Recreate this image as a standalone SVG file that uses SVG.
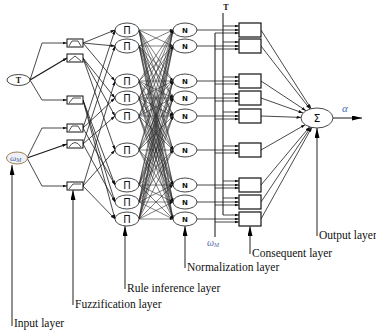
<svg xmlns="http://www.w3.org/2000/svg" width="376" height="333" viewBox="0 0 376 333">
<defs>
<marker id="a" viewBox="0 0 6 4" refX="6" refY="2" markerWidth="4.5" markerHeight="3" markerUnits="userSpaceOnUse" orient="auto"><path d="M0,0 L6,2 L0,4 z" fill="#111"/></marker>
<marker id="s" viewBox="0 0 6 4" refX="6" refY="2" markerWidth="3.5" markerHeight="2.5" markerUnits="userSpaceOnUse" orient="auto"><path d="M0,0 L6,2 L0,4 z" fill="#111"/></marker>
<marker id="b" viewBox="0 0 10 5" refX="10" refY="2.5" markerWidth="10" markerHeight="5" markerUnits="userSpaceOnUse" orient="auto"><path d="M0,0 L10,2.5 L0,5 z" fill="#000"/></marker>
</defs>
<style>
.c{stroke:#1a1a1a;stroke-width:.8;fill:none;marker-end:url(#a)}
.d line{stroke:#2a2a2a;stroke-width:.6;fill:none;marker-end:url(#s)}
.bus{stroke:#111;stroke-width:1;fill:none}
.nd{fill:#fff;stroke:#333;stroke-width:.9}
.bx{fill:#fff;stroke:#111;stroke-width:1.2}
.fz{fill:#fff;stroke:#111;stroke-width:1}
.mf{fill:none;stroke:#222;stroke-width:.8}
.pi{font-family:"DejaVu Sans",sans-serif;font-size:10px;fill:#111;text-anchor:middle}
.n{font-family:"DejaVu Sans",sans-serif;font-size:7px;font-weight:bold;fill:#111;text-anchor:middle}
.lb{font-family:"Liberation Serif",serif;font-size:11.5px;fill:#111}
.lk{stroke:#555;stroke-width:1.3;fill:none;marker-end:url(#b)}
</style>
<rect width="376" height="333" fill="#fff"/>
<g id="connectors">
<polyline class="c" points="30,80 42,43 67,43"/>
<polyline class="c" points="30,80 67,58" style="stroke-width:1.3"/>
<polyline class="c" points="30,80 42,100 67,100"/>
<polyline class="c" points="27,158 42,128 67,128"/>
<polyline class="c" points="27,158 67,144" style="stroke-width:1.3"/>
<polyline class="c" points="27,158 42,186 67,186"/>
<line class="c" x1="83" y1="43" x2="115" y2="30"/>
<line class="c" x1="83" y1="43" x2="115" y2="46"/>
<line class="c" x1="83" y1="43" x2="115" y2="81"/>
<line class="c" x1="83" y1="58" x2="115" y2="98"/>
<line class="c" x1="83" y1="58" x2="115" y2="116"/>
<line class="c" x1="83" y1="58" x2="115" y2="150"/>
<line class="c" x1="83" y1="100" x2="115" y2="185"/>
<line class="c" x1="83" y1="100" x2="115" y2="202"/>
<line class="c" x1="83" y1="100" x2="115" y2="219"/>
<line class="c" x1="83" y1="128" x2="115" y2="30"/>
<line class="c" x1="83" y1="128" x2="115" y2="98"/>
<line class="c" x1="83" y1="128" x2="115" y2="185"/>
<line class="c" x1="83" y1="144" x2="115" y2="46"/>
<line class="c" x1="83" y1="144" x2="115" y2="116"/>
<line class="c" x1="83" y1="144" x2="115" y2="202"/>
<line class="c" x1="83" y1="186" x2="115" y2="81"/>
<line class="c" x1="83" y1="186" x2="115" y2="150"/>
<line class="c" x1="83" y1="186" x2="115" y2="219"/>
<g class="d">
<line x1="139" y1="30" x2="173" y2="30"/><line x1="139" y1="30" x2="173" y2="46"/><line x1="139" y1="30" x2="173" y2="81"/><line x1="139" y1="30" x2="173" y2="98"/><line x1="139" y1="30" x2="173" y2="116"/><line x1="139" y1="30" x2="173" y2="150"/><line x1="139" y1="30" x2="173" y2="185"/><line x1="139" y1="30" x2="173" y2="202"/><line x1="139" y1="30" x2="173" y2="219"/>
<line x1="139" y1="46" x2="173" y2="30"/><line x1="139" y1="46" x2="173" y2="46"/><line x1="139" y1="46" x2="173" y2="81"/><line x1="139" y1="46" x2="173" y2="98"/><line x1="139" y1="46" x2="173" y2="116"/><line x1="139" y1="46" x2="173" y2="150"/><line x1="139" y1="46" x2="173" y2="185"/><line x1="139" y1="46" x2="173" y2="202"/><line x1="139" y1="46" x2="173" y2="219"/>
<line x1="139" y1="81" x2="173" y2="30"/><line x1="139" y1="81" x2="173" y2="46"/><line x1="139" y1="81" x2="173" y2="81"/><line x1="139" y1="81" x2="173" y2="98"/><line x1="139" y1="81" x2="173" y2="116"/><line x1="139" y1="81" x2="173" y2="150"/><line x1="139" y1="81" x2="173" y2="185"/><line x1="139" y1="81" x2="173" y2="202"/><line x1="139" y1="81" x2="173" y2="219"/>
<line x1="139" y1="98" x2="173" y2="30"/><line x1="139" y1="98" x2="173" y2="46"/><line x1="139" y1="98" x2="173" y2="81"/><line x1="139" y1="98" x2="173" y2="98"/><line x1="139" y1="98" x2="173" y2="116"/><line x1="139" y1="98" x2="173" y2="150"/><line x1="139" y1="98" x2="173" y2="185"/><line x1="139" y1="98" x2="173" y2="202"/><line x1="139" y1="98" x2="173" y2="219"/>
<line x1="139" y1="116" x2="173" y2="30"/><line x1="139" y1="116" x2="173" y2="46"/><line x1="139" y1="116" x2="173" y2="81"/><line x1="139" y1="116" x2="173" y2="98"/><line x1="139" y1="116" x2="173" y2="116"/><line x1="139" y1="116" x2="173" y2="150"/><line x1="139" y1="116" x2="173" y2="185"/><line x1="139" y1="116" x2="173" y2="202"/><line x1="139" y1="116" x2="173" y2="219"/>
<line x1="139" y1="150" x2="173" y2="30"/><line x1="139" y1="150" x2="173" y2="46"/><line x1="139" y1="150" x2="173" y2="81"/><line x1="139" y1="150" x2="173" y2="98"/><line x1="139" y1="150" x2="173" y2="116"/><line x1="139" y1="150" x2="173" y2="150"/><line x1="139" y1="150" x2="173" y2="185"/><line x1="139" y1="150" x2="173" y2="202"/><line x1="139" y1="150" x2="173" y2="219"/>
<line x1="139" y1="185" x2="173" y2="30"/><line x1="139" y1="185" x2="173" y2="46"/><line x1="139" y1="185" x2="173" y2="81"/><line x1="139" y1="185" x2="173" y2="98"/><line x1="139" y1="185" x2="173" y2="116"/><line x1="139" y1="185" x2="173" y2="150"/><line x1="139" y1="185" x2="173" y2="185"/><line x1="139" y1="185" x2="173" y2="202"/><line x1="139" y1="185" x2="173" y2="219"/>
<line x1="139" y1="202" x2="173" y2="30"/><line x1="139" y1="202" x2="173" y2="46"/><line x1="139" y1="202" x2="173" y2="81"/><line x1="139" y1="202" x2="173" y2="98"/><line x1="139" y1="202" x2="173" y2="116"/><line x1="139" y1="202" x2="173" y2="150"/><line x1="139" y1="202" x2="173" y2="185"/><line x1="139" y1="202" x2="173" y2="202"/><line x1="139" y1="202" x2="173" y2="219"/>
<line x1="139" y1="219" x2="173" y2="30"/><line x1="139" y1="219" x2="173" y2="46"/><line x1="139" y1="219" x2="173" y2="81"/><line x1="139" y1="219" x2="173" y2="98"/><line x1="139" y1="219" x2="173" y2="116"/><line x1="139" y1="219" x2="173" y2="150"/><line x1="139" y1="219" x2="173" y2="185"/><line x1="139" y1="219" x2="173" y2="202"/><line x1="139" y1="219" x2="173" y2="219"/>
</g>
<line class="bus" x1="223" y1="13" x2="223" y2="215"/>
<line class="bus" x1="215" y1="33" x2="215" y2="237"/>
<line class="c" x1="197" y1="30" x2="239" y2="30"/><line class="c" x1="223" y1="26" x2="239" y2="26"/><line class="c" x1="215" y1="33" x2="239" y2="33"/>
<line class="c" x1="197" y1="46" x2="239" y2="46"/><line class="c" x1="223" y1="42" x2="239" y2="42"/><line class="c" x1="215" y1="49" x2="239" y2="49"/>
<line class="c" x1="197" y1="81" x2="239" y2="81"/><line class="c" x1="223" y1="77" x2="239" y2="77"/><line class="c" x1="215" y1="84" x2="239" y2="84"/>
<line class="c" x1="197" y1="98" x2="239" y2="98"/><line class="c" x1="223" y1="94" x2="239" y2="94"/><line class="c" x1="215" y1="101" x2="239" y2="101"/>
<line class="c" x1="197" y1="116" x2="239" y2="116"/><line class="c" x1="223" y1="112" x2="239" y2="112"/><line class="c" x1="215" y1="119" x2="239" y2="119"/>
<line class="c" x1="197" y1="150" x2="239" y2="150"/><line class="c" x1="223" y1="146" x2="239" y2="146"/><line class="c" x1="215" y1="153" x2="239" y2="153"/>
<line class="c" x1="197" y1="185" x2="239" y2="185"/><line class="c" x1="223" y1="181" x2="239" y2="181"/><line class="c" x1="215" y1="188" x2="239" y2="188"/>
<line class="c" x1="197" y1="202" x2="239" y2="202"/><line class="c" x1="223" y1="198" x2="239" y2="198"/><line class="c" x1="215" y1="205" x2="239" y2="205"/>
<line class="c" x1="197" y1="219" x2="239" y2="219"/><line class="c" x1="223" y1="215" x2="239" y2="215"/><line class="c" x1="215" y1="222" x2="239" y2="222"/>
<line class="c" x1="261" y1="30" x2="311.1" y2="108.7"/>
<line class="c" x1="261" y1="46" x2="310" y2="109"/>
<line class="c" x1="261" y1="81" x2="306" y2="110.7"/>
<line class="c" x1="261" y1="98" x2="303.1" y2="113"/>
<line class="c" x1="261" y1="116" x2="301" y2="117.4"/>
<line class="c" x1="261" y1="150" x2="305.2" y2="124.7"/>
<line class="c" x1="261" y1="185" x2="309.6" y2="126.9"/>
<line class="c" x1="261" y1="202" x2="310.8" y2="127.2"/>
<line class="c" x1="261" y1="219" x2="311.8" y2="127.4"/>
<line class="c" x1="333" y1="118" x2="362" y2="118" style="marker-end:url(#b);stroke-width:1"/>
</g>
<g id="in-tau"><ellipse class="nd" cx="18.5" cy="80" rx="11.5" ry="5.5"/><text x="18.5" y="83" font-family="Liberation Serif,serif" font-size="8" font-weight="bold" text-anchor="middle" fill="#111">T</text></g>
<g id="in-omega"><ellipse cx="17" cy="158" rx="10.5" ry="6" fill="#eef0f8" stroke="#a08050" stroke-width="1"/><text x="10" y="161" font-family="Liberation Serif,serif" font-size="9" font-style="italic" fill="#4a5f9e">ω<tspan font-size="6" dy="1">M</tspan></text></g>
<g id="fuzz-A1"><rect class="fz" x="67" y="39" width="16" height="8"/><path class="mf" d="M69,46 L72,41 L78,41 L81,46"/></g>
<g id="fuzz-A2"><rect class="fz" x="67" y="54" width="16" height="8"/><path class="mf" d="M69,61 L75,56 L81,61"/></g>
<g id="fuzz-A3"><rect class="fz" x="67" y="96" width="16" height="8"/><path class="mf" d="M69,103 L73,98 L81,98"/></g>
<g id="fuzz-B1"><rect class="fz" x="67" y="124" width="16" height="8"/><path class="mf" d="M69,131 L72,126 L78,126 L81,131"/></g>
<g id="fuzz-B2"><rect class="fz" x="67" y="140" width="16" height="8"/><path class="mf" d="M69,147 Q75,138 81,147"/></g>
<g id="fuzz-B3"><rect class="fz" x="67" y="182" width="16" height="8"/><path class="mf" d="M69,189 L73,184 L81,184"/></g>
<g id="rule1"><ellipse class="nd" cx="127" cy="30" rx="12" ry="7"/><text class="pi" x="127" y="34">Π</text></g>
<g id="rule2"><ellipse class="nd" cx="127" cy="46" rx="12" ry="7"/><text class="pi" x="127" y="50">Π</text></g>
<g id="rule3"><ellipse class="nd" cx="127" cy="81" rx="12" ry="7"/><text class="pi" x="127" y="85">Π</text></g>
<g id="rule4"><ellipse class="nd" cx="127" cy="98" rx="12" ry="7"/><text class="pi" x="127" y="102">Π</text></g>
<g id="rule5"><ellipse class="nd" cx="127" cy="116" rx="12" ry="7"/><text class="pi" x="127" y="120">Π</text></g>
<g id="rule6"><ellipse class="nd" cx="127" cy="150" rx="12" ry="7"/><text class="pi" x="127" y="154">Π</text></g>
<g id="rule7"><ellipse class="nd" cx="127" cy="185" rx="12" ry="7"/><text class="pi" x="127" y="189">Π</text></g>
<g id="rule8"><ellipse class="nd" cx="127" cy="202" rx="12" ry="7"/><text class="pi" x="127" y="206">Π</text></g>
<g id="rule9"><ellipse class="nd" cx="127" cy="219" rx="12" ry="7"/><text class="pi" x="127" y="223">Π</text></g>
<g id="norm1"><ellipse class="nd" cx="185" cy="30" rx="12" ry="7"/><text class="n" x="185" y="32.5">N</text></g>
<g id="norm2"><ellipse class="nd" cx="185" cy="46" rx="12" ry="7"/><text class="n" x="185" y="48.5">N</text></g>
<g id="norm3"><ellipse class="nd" cx="185" cy="81" rx="12" ry="7"/><text class="n" x="185" y="83.5">N</text></g>
<g id="norm4"><ellipse class="nd" cx="185" cy="98" rx="12" ry="7"/><text class="n" x="185" y="100.5">N</text></g>
<g id="norm5"><ellipse class="nd" cx="185" cy="116" rx="12" ry="7"/><text class="n" x="185" y="118.5">N</text></g>
<g id="norm6"><ellipse class="nd" cx="185" cy="150" rx="12" ry="7"/><text class="n" x="185" y="152.5">N</text></g>
<g id="norm7"><ellipse class="nd" cx="185" cy="185" rx="12" ry="7"/><text class="n" x="185" y="187.5">N</text></g>
<g id="norm8"><ellipse class="nd" cx="185" cy="202" rx="12" ry="7"/><text class="n" x="185" y="204.5">N</text></g>
<g id="norm9"><ellipse class="nd" cx="185" cy="219" rx="12" ry="7"/><text class="n" x="185" y="221.5">N</text></g>
<g id="cons1"><rect class="bx" x="239" y="23" width="22" height="14"/></g>
<g id="cons2"><rect class="bx" x="239" y="39" width="22" height="14"/></g>
<g id="cons3"><rect class="bx" x="239" y="74" width="22" height="14"/></g>
<g id="cons4"><rect class="bx" x="239" y="91" width="22" height="14"/></g>
<g id="cons5"><rect class="bx" x="239" y="109" width="22" height="14"/></g>
<g id="cons6"><rect class="bx" x="239" y="143" width="22" height="14"/></g>
<g id="cons7"><rect class="bx" x="239" y="178" width="22" height="14"/></g>
<g id="cons8"><rect class="bx" x="239" y="195" width="22" height="14"/></g>
<g id="cons9"><rect class="bx" x="239" y="212" width="22" height="14"/></g>
<g id="sum"><ellipse class="nd" cx="317" cy="118" rx="16" ry="10"/><text x="317" y="122" font-family="DejaVu Sans,sans-serif" font-size="11" text-anchor="middle" fill="#111">Σ</text></g>
<g id="bus-labels">
<text x="226" y="10" font-family="Liberation Serif,serif" font-size="8" font-weight="bold" text-anchor="middle" fill="#111">T</text>
<text x="207" y="246" font-family="Liberation Serif,serif" font-size="10" font-style="italic" fill="#5a6ca8">ω<tspan font-size="6" dy="1">M</tspan></text>
<text x="342" y="112" font-family="Liberation Serif,serif" font-size="11" font-style="italic" fill="#4a6fb5">α</text>
</g>
<g id="layer-labels">
<line class="lk" x1="12" y1="326" x2="12" y2="165"/><text class="lb" x="14" y="327">Input layer</text>
<line class="lk" x1="73" y1="305" x2="73" y2="190"/><text class="lb" x="75" y="308">Fuzzification layer</text>
<line class="lk" x1="125" y1="289" x2="125" y2="226"/><text class="lb" x="127" y="292">Rule inference layer</text>
<line class="lk" x1="185" y1="268" x2="185" y2="226"/><text class="lb" x="187" y="271">Normalization layer</text>
<line class="lk" x1="250" y1="254" x2="250" y2="226"/><text class="lb" x="252" y="257">Consequent layer</text>
<line class="lk" x1="317" y1="236" x2="317" y2="128"/><text class="lb" x="319" y="239">Output layer</text>
</g>
</svg>
